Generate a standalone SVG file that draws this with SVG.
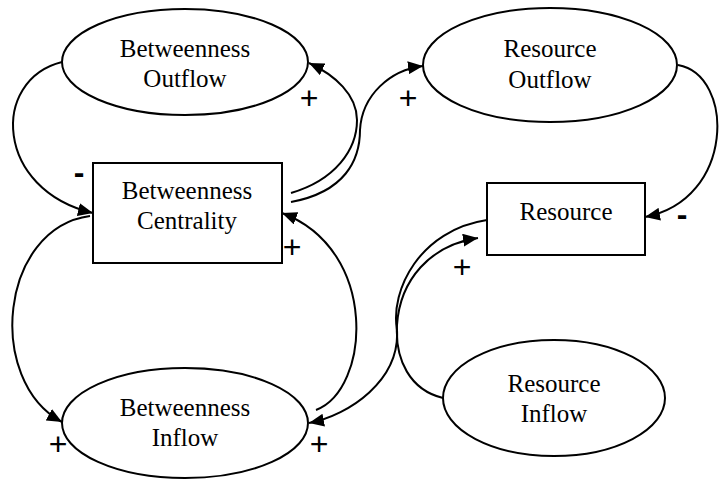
<svg xmlns="http://www.w3.org/2000/svg" width="719" height="479" viewBox="0 0 719 479">
<defs>
<marker id="ah" markerUnits="userSpaceOnUse" markerWidth="16" markerHeight="13" refX="15" refY="6.5" orient="auto">
<path d="M0,0 L15,6.5 L0,13 z" fill="#000"/>
</marker>
<style>
.n{fill:#fff;stroke:#000;stroke-width:2}
.t{font-family:"Liberation Serif","Times New Roman",serif;font-size:25px;text-anchor:middle;fill:#000}
.c{fill:none;stroke:#000;stroke-width:2}
.a{marker-end:url(#ah)}
.s{font-family:"Liberation Sans",Arial,sans-serif;font-size:32px;text-anchor:middle;fill:#000}
.m{font-weight:bold}
</style>
</defs>
<rect width="719" height="479" fill="#fff"/>
<g id="connectors">
<path class="c a" d="M62,62 C-10,80 -5,190 93,213"/>
<path class="c a" d="M90,216 C0,228 -15,380 62,422"/>
<path class="c a" d="M316,410 C370,390 380,250 282,213"/>
<path class="c a" d="M291,193 C335,180 357,150 357,120 C357,95 335,75 309,63"/>
<path class="c a" d="M291,202 C345,192 360,160 360,130 C362,95 390,70 423,66"/>
<path class="c a" d="M678,65 C735,75 735,200 645,217"/>
<path class="c a" d="M443,398 C410,390 395,360 397,325 C400,280 430,245 478,238"/>
<path class="c a" d="M487,220 C420,230 390,290 397,330 C400,380 350,415 309,423"/>
</g>
<g id="betweenness-outflow">
<ellipse class="n" cx="185" cy="62" rx="123" ry="53"/>
<text class="t" x="185" y="57">Betweenness</text>
<text class="t" x="185" y="87">Outflow</text>
</g>
<g id="resource-outflow">
<ellipse class="n" cx="550" cy="65" rx="127" ry="57"/>
<text class="t" x="550" y="57">Resource</text>
<text class="t" x="550" y="88">Outflow</text>
</g>
<g id="betweenness-centrality">
<rect class="n" x="93" y="163" width="189" height="100"/>
<text class="t" x="187" y="199">Betweenness</text>
<text class="t" x="187" y="229">Centrality</text>
</g>
<g id="resource">
<rect class="n" x="487" y="183" width="158" height="72"/>
<text class="t" x="566" y="220">Resource</text>
</g>
<g id="betweenness-inflow">
<ellipse class="n" cx="185" cy="423" rx="123" ry="55"/>
<text class="t" x="185" y="416">Betweenness</text>
<text class="t" x="185" y="446">Inflow</text>
</g>
<g id="resource-inflow">
<ellipse class="n" cx="554" cy="398" rx="111" ry="58"/>
<text class="t" x="554" y="392">Resource</text>
<text class="t" x="554" y="422">Inflow</text>
</g>
<g id="signs">
<text class="s" x="309" y="109">+</text>
<text class="s m" x="79" y="183">-</text>
<text class="s" x="408" y="109">+</text>
<text class="s m" x="682" y="225">-</text>
<text class="s" x="292" y="258">+</text>
<text class="s" x="58" y="455">+</text>
<text class="s" x="319" y="455">+</text>
<text class="s" x="462" y="278">+</text>
</g>
</svg>
